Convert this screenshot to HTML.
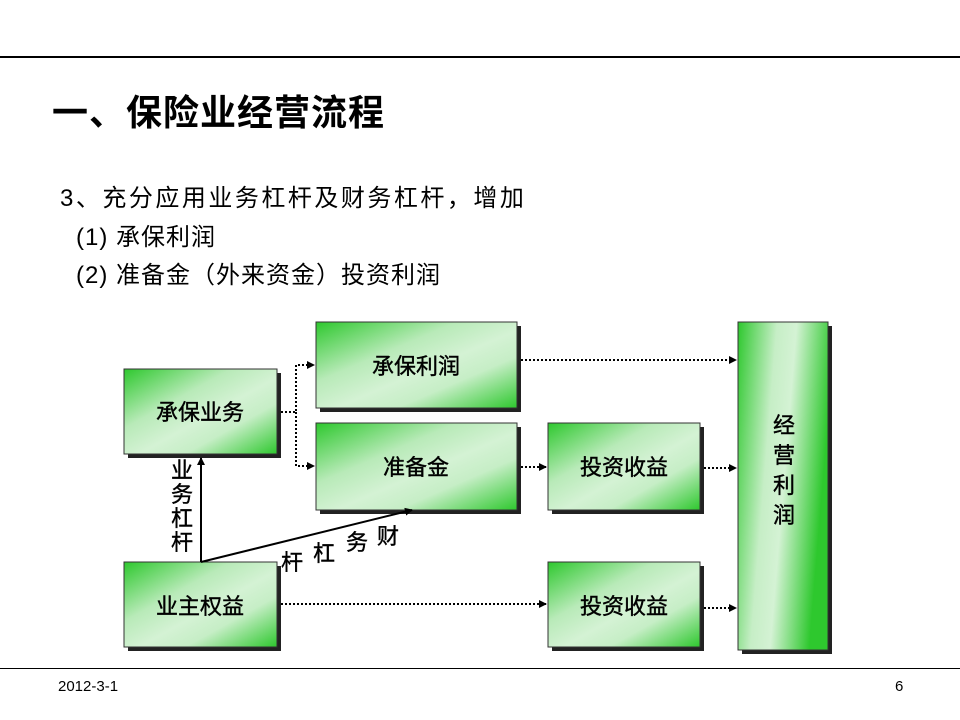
<!DOCTYPE html>
<html><head><meta charset="utf-8"><style>
body{margin:0;width:960px;height:720px;background:#fff;overflow:hidden;position:relative;font-family:"Liberation Sans","Noto Sans CJK SC",sans-serif;}
.t{position:absolute;white-space:nowrap;color:#000;}
</style></head><body>
<div style="position:absolute;left:0;top:56px;width:960px;height:2px;background:#000"></div>
<div style="position:absolute;left:0;top:668px;width:960px;height:1px;background:#000"></div>
<div class="t" style="left:52px;top:84px;font-size:36px;font-weight:bold;letter-spacing:1px">一、保险业经营流程</div>
<div class="t" style="left:60px;top:178px;font-size:24px;letter-spacing:2.5px">3、充分应用业务杠杆及财务杠杆，增加</div>
<div class="t" style="left:76px;top:217px;font-size:24px;letter-spacing:1px">(1) 承保利润</div>
<div class="t" style="left:76px;top:255px;font-size:24px;letter-spacing:1px">(2) 准备金（外来资金）投资利润</div>
<div class="t" style="left:58px;top:678px;font-size:15px">2012-3-1</div>
<div class="t" style="left:895px;top:678px;font-size:15px">6</div>
<svg width="960" height="720" style="position:absolute;left:0;top:0">
<defs>
<linearGradient id="g" x1="0" y1="0" x2="1" y2="1">
<stop offset="0" stop-color="#2ec82e"/><stop offset="0.35" stop-color="#b8eab8"/><stop offset="0.55" stop-color="#d4f2d4"/><stop offset="0.7" stop-color="#c6eec6"/><stop offset="1" stop-color="#2ec82e"/>
</linearGradient>
<linearGradient id="g2" x1="0" y1="0" x2="1" y2="0.3">
<stop offset="0" stop-color="#2ec82e"/><stop offset="0.4" stop-color="#c6eec6"/><stop offset="0.6" stop-color="#d4f2d4"/><stop offset="1" stop-color="#2ec82e"/>
</linearGradient>
<marker id="a" markerWidth="8" markerHeight="8" refX="7" refY="4" orient="auto" markerUnits="userSpaceOnUse"><path d="M0,0 L8,4 L0,8z" fill="#000"/></marker>
</defs>
<g fill="#222">
<rect x="128" y="373" width="153" height="85"/><rect x="320" y="326" width="201" height="86"/>
<rect x="320" y="427" width="201" height="87"/><rect x="128" y="566" width="153" height="85"/>
<rect x="552" y="427" width="152" height="87"/><rect x="552" y="566" width="152" height="85"/>
<rect x="742" y="326" width="90" height="328"/>
</g>
<g stroke="#333" stroke-width="1">
<rect x="124" y="369" width="153" height="85" fill="url(#g)"/><rect x="316" y="322" width="201" height="86" fill="url(#g)"/>
<rect x="316" y="423" width="201" height="87" fill="url(#g)"/><rect x="124" y="562" width="153" height="85" fill="url(#g)"/>
<rect x="548" y="423" width="152" height="87" fill="url(#g)"/><rect x="548" y="562" width="152" height="85" fill="url(#g)"/>
<rect x="738" y="322" width="90" height="328" fill="url(#g2)"/>
</g>
<g stroke="#000" stroke-width="2" stroke-dasharray="2,2" fill="none">
<path d="M281,412 H296 V365 H314" marker-end="url(#a)"/>
<path d="M296,412 V466 H314" marker-end="url(#a)"/>
<path d="M521,360 H736" marker-end="url(#a)"/>
<path d="M521,467 H546" marker-end="url(#a)"/>
<path d="M704,468 H736" marker-end="url(#a)"/>
<path d="M281,604 H546" marker-end="url(#a)"/>
<path d="M704,608 H736" marker-end="url(#a)"/>
</g>
<g stroke="#000" stroke-width="2" fill="none">
<path d="M201,562 V458" marker-end="url(#a)"/>
<path d="M201,562 L412,510" marker-end="url(#a)"/>
</g>
<g font-size="22" fill="#000" stroke="#000" stroke-width="0.4" text-anchor="middle" font-family="Liberation Sans,Noto Sans CJK SC,sans-serif">
<text x="200" y="420">承保业务</text><text x="416" y="374">承保利润</text>
<text x="416" y="475">准备金</text><text x="200" y="614">业主权益</text>
<text x="624" y="475">投资收益</text><text x="624" y="614">投资收益</text>
<text x="784" y="433">经</text><text x="784" y="463">营</text><text x="784" y="493">利</text><text x="784" y="523">润</text>
<text x="182" y="478">业</text><text x="182" y="502">务</text><text x="182" y="526">杠</text><text x="182" y="550">杆</text>
<text x="292" y="570">杆</text><text x="324" y="561">杠</text><text x="357" y="550">务</text><text x="388" y="544">财</text>
</g>
</svg>
</body></html>
